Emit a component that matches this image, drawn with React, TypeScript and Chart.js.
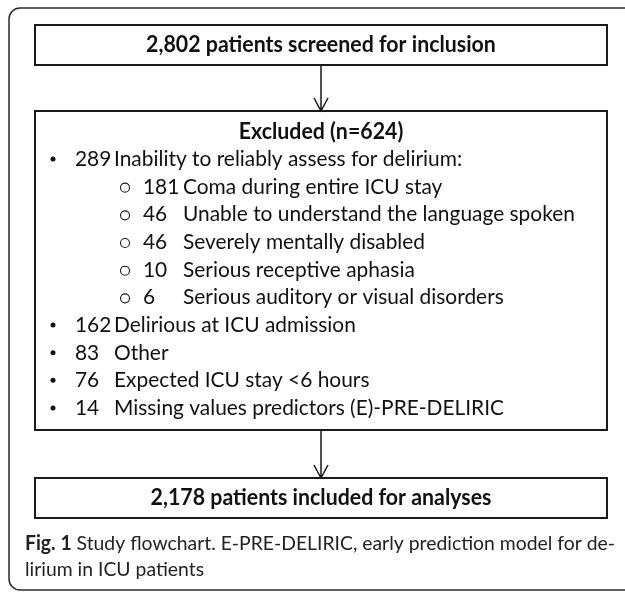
import React, { useEffect, useRef } from "react";
import { Chart, registerables } from "chart.js";

Chart.register(...registerables);

// ---- data ----
const screenedCount = 2802;
const excludedCount = 624;
const includedCount = 2178;
const exclusionCounts = [289, 162, 83, 76, 14];
const exclusionReasons = [
  "Inability to reliably assess for delirium:",
  "Delirious at ICU admission",
  "Other",
  "Expected ICU stay <6 hours",
  "Missing values predictors (E)-PRE-DELIRIC",
];
const subCounts = [181, 46, 46, 10, 6];
const subReasons = [
  "Coma during entire ICU stay",
  "Unable to understand the language spoken",
  "Severely mentally disabled",
  "Serious receptive aphasia",
  "Serious auditory or visual disorders",
];
const captionBold = "Fig. 1";
const captionLines = [
  " Study flowchart. E-PRE-DELIRIC, early prediction model for de-",
  "lirium in ICU patients",
];

const fmt = (n: number) => n.toLocaleString("en-US");

// ---- layout (value space == pixel space, y down) ----
const L = {
  frame: { left: 9, top: 8, right: 660, bottom: 590, r: 11 },
  boxLeft: 35,
  boxRight: 607,
  box1: { top: 25, bottom: 65 },
  box2: { top: 111, bottom: 430 },
  box3: { top: 478, bottom: 518 },
  excludedY: 132,
  firstRowY: 159,
  rowStep: 27.67,
  bulletX: 53,
  numX: 75,
  textX: 114,
  circleX: 125,
  subNumX: 143,
  subTextX: 183,
  captionX: 25,
  captionRight: 615,
  captionY: [544, 570],
};

const FONT = "Lato, 'Open Sans', sans-serif";
const SX = 0.95;

function drawText(ctx: CanvasRenderingContext2D, text: string, x: number, y: number, font: string, align: "left" | "center" = "left", sx = SX) {
  ctx.save();
  ctx.font = font;
  ctx.textBaseline = "middle";
  ctx.translate(x, y);
  ctx.scale(sx, 1);
  const w = ctx.measureText(text).width;
  ctx.fillText(text, align === "center" ? -w / 2 : 0, 0);
  ctx.restore();
  return w * sx;
}

const flowPlugin = {
  id: "flow",
  afterDraw(chart: any) {
    const ctx: CanvasRenderingContext2D = chart.ctx;
    const xs = chart.scales.x;
    const ys = chart.scales.y;
    const px = (v: number) => xs.getPixelForValue(v);
    const py = (v: number) => ys.getPixelForValue(v);

    ctx.save();
    // outer frame
    const f = L.frame;
    ctx.strokeStyle = "#2a2a2a";
    ctx.lineWidth = 1.5;
    ctx.beginPath();
    ctx.moveTo(px(f.right), py(f.top));
    ctx.lineTo(px(f.left + f.r), py(f.top));
    ctx.arcTo(px(f.left), py(f.top), px(f.left), py(f.top + f.r), f.r);
    ctx.lineTo(px(f.left), py(f.bottom - f.r));
    ctx.arcTo(px(f.left), py(f.bottom), px(f.left + f.r), py(f.bottom), f.r);
    ctx.lineTo(px(f.right), py(f.bottom));
    ctx.stroke();

    // boxes
    ctx.strokeStyle = "#1a1a1a";
    ctx.lineWidth = 2;
    const box = (b: { top: number; bottom: number }) => {
      ctx.strokeRect(px(L.boxLeft), py(b.top), px(L.boxRight) - px(L.boxLeft), py(b.bottom) - py(b.top));
    };
    box(L.box1);
    box(L.box2);
    box(L.box3);

    // arrows
    const cx = (L.boxLeft + L.boxRight) / 2;
    const arrow = (y1: number, y2: number) => {
      ctx.lineWidth = 1.5;
      ctx.beginPath();
      ctx.moveTo(px(cx), py(y1));
      ctx.lineTo(px(cx), py(y2));
      ctx.moveTo(px(cx) - 7, py(y2) - 13);
      ctx.lineTo(px(cx), py(y2));
      ctx.lineTo(px(cx) + 7, py(y2) - 13);
      ctx.stroke();
    };
    arrow(L.box1.bottom, L.box2.top);
    arrow(L.box2.bottom, L.box3.top);

    ctx.fillStyle = "#111";
    const boldF = `bold 22px ${FONT}`;
    const regF = `22px ${FONT}`;
    drawText(ctx, `${fmt(screenedCount)} patients screened for inclusion`, px(cx), py((L.box1.top + L.box1.bottom) / 2), boldF, "center", 0.97);
    drawText(ctx, `Excluded (n=${excludedCount})`, px(cx), py(L.excludedY), boldF, "center", 0.97);
    drawText(ctx, `${fmt(includedCount)} patients included for analyses`, px(cx), py((L.box3.top + L.box3.bottom) / 2), boldF, "center", 0.97);

    // rows
    let row = 0;
    const rowY = () => py(L.firstRowY + row * L.rowStep);
    exclusionCounts.forEach((c, i) => {
      const y = rowY();
      ctx.beginPath();
      ctx.arc(px(L.bulletX), y, 2.5, 0, Math.PI * 2);
      ctx.fill();
      drawText(ctx, String(c), px(L.numX), y, regF);
      drawText(ctx, exclusionReasons[i], px(L.textX), y, regF);
      row++;
      if (i === 0) {
        subCounts.forEach((sc, j) => {
          const yy = rowY();
          ctx.lineWidth = 1.1;
          ctx.beginPath();
          ctx.arc(px(L.circleX), yy + 1, 4.5, 0, Math.PI * 2);
          ctx.stroke();
          drawText(ctx, String(sc), px(L.subNumX), yy, regF);
          drawText(ctx, subReasons[j], px(L.subTextX), yy, regF);
          row++;
        });
      }
    });

    // caption
    ctx.fillStyle = "#222";
    const capF = `20px ${FONT}`;
    const capB = `bold 20px ${FONT}`;
    ctx.save();
    ctx.font = capB;
    const wb = ctx.measureText(captionBold).width;
    ctx.font = capF;
    const wr = ctx.measureText(captionLines[0]).width;
    ctx.restore();
    const target = px(L.captionRight) - px(L.captionX);
    const csx = target / (wb + wr);
    const w1 = drawText(ctx, captionBold, px(L.captionX), py(L.captionY[0]), capB, "left", csx);
    drawText(ctx, captionLines[0], px(L.captionX) + w1, py(L.captionY[0]), capF, "left", csx);
    drawText(ctx, captionLines[1], px(L.captionX), py(L.captionY[1]), capF, "left", csx);
    ctx.restore();
  },
};

export default function App() {
  const ref = useRef<HTMLCanvasElement>(null);
  useEffect(() => {
    document.body.style.margin = "0";
    document.body.style.background = "#fff";
    const chart = new Chart(ref.current!, {
      type: "scatter",
      data: { datasets: [{ data: [], pointRadius: 0 }] },
      options: {
        animation: false,
        responsive: false,
        maintainAspectRatio: false,
        layout: { padding: 0 },
        plugins: { legend: { display: false }, tooltip: { enabled: false } },
        scales: {
          x: { type: "linear", min: 0, max: 625, display: false },
          y: { type: "linear", min: 0, max: 592, reverse: true, display: false },
        },
      },
      plugins: [flowPlugin],
    });
    return () => chart.destroy();
  }, []);
  return <canvas ref={ref} width={625} height={592} style={{ display: "block" }} />;
}
